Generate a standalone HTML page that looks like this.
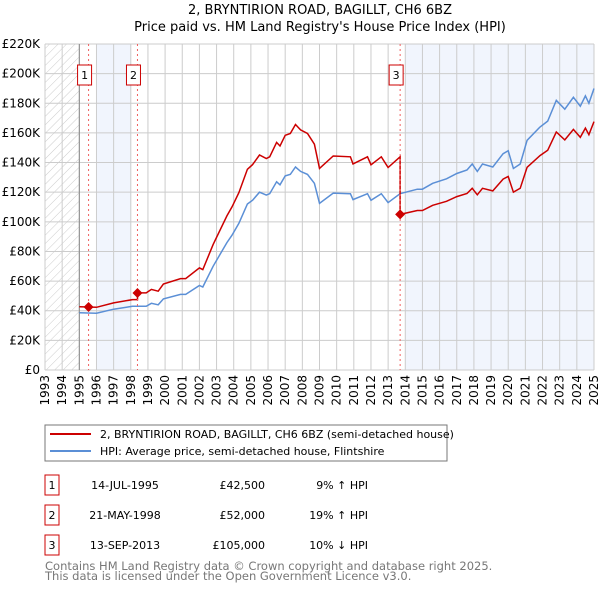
<!DOCTYPE html>
<html><head><meta charset="utf-8"><style>
body{margin:0;background:#fff;}
svg{font-family:"DejaVu Sans","Liberation Sans",sans-serif;}
</style></head><body>
<svg id="chart" width="600" height="590" viewBox="0 0 600 590" xmlns="http://www.w3.org/2000/svg">
<text x="320" y="14" text-anchor="middle" font-size="13">2, BRYNTIRION ROAD, BAGILLT, CH6 6BZ</text>
<text x="320" y="31" text-anchor="middle" font-size="13">Price paid vs. HM Land Registry's House Price Index (HPI)</text>
<defs><pattern id="hatch" width="6" height="6" patternUnits="userSpaceOnUse" patternTransform="rotate(45)"><line x1="0" y1="0" x2="0" y2="6" stroke="#ccc" stroke-width="1"/></pattern></defs>
<g id="bg"></g><g id="grid"></g><g id="series"></g><g id="marks"></g>
<rect x="45" y="425" width="402" height="36" fill="#fff" stroke="#777"/>
<line x1="50" y1="434" x2="91" y2="434" stroke="#cc0000" stroke-width="2"/>
<text x="100" y="438" font-size="11">2, BRYNTIRION ROAD, BAGILLT, CH6 6BZ (semi-detached house)</text>
<line x1="50" y1="451" x2="91" y2="451" stroke="#5b8fd6" stroke-width="2"/>
<text x="100" y="455" font-size="11">HPI: Average price, semi-detached house, Flintshire</text>
<g id="table" font-size="11"></g>
<text x="45" y="570" font-size="11.5" fill="#777">Contains HM Land Registry data © Crown copyright and database right 2025.</text>
<text x="45" y="580" font-size="11.5" fill="#777">This data is licensed under the Open Government Licence v3.0.</text>
</svg>
<script>
const hpiYears=[1995.0,1996.0,1997.0,1998.1,1998.9,1999.2,1999.6,1999.9,2000.9,2001.2,2002.0,2002.2,2002.8,2003.6,2003.9,2004.3,2004.8,2005.1,2005.5,2005.9,2006.1,2006.5,2006.7,2007.0,2007.3,2007.6,2007.9,2008.3,2008.7,2009.0,2009.8,2010.8,2010.95,2011.8,2012.0,2012.6,2013.0,2013.7,2014.7,2015.0,2015.6,2016.4,2017.0,2017.6,2017.9,2018.2,2018.5,2019.1,2019.7,2020.0,2020.3,2020.7,2021.1,2021.85,2022.3,2022.8,2023.3,2023.8,2024.2,2024.5,2024.7,2025.0];
const hpiValues=[38.7,38.3,41,43,43,45,44,48,51,51,57,56,70,86,91,99,112,114.6,120,118,119,127,125,131,132,137,134,132,126,112.5,119.4,119,115,119,114.5,119,113,119,122,122,126,129,132.6,135,139,134,139,137,146,148,136,139,155,164,168,182,176,184,178,185,180,190];
const saleDates=[1995.54,1998.39,2013.7];
const salePrices=[42.5,52,105];
const saleLabels=["1","2","3"];
const saleDateText=["14-JUL-1995","21-MAY-1998","13-SEP-2013"];
const salePriceText=["£42,500","£52,000","£105,000"];
const saleHpiText=["9% ↑ HPI","19% ↑ HPI","10% ↓ HPI"];
const yTicks=[0,20,40,60,80,100,120,140,160,180,200,220];
const xTicks=[1993,1994,1995,1996,1997,1998,1999,2000,2001,2002,2003,2004,2005,2006,2007,2008,2009,2010,2011,2012,2013,2014,2015,2016,2017,2018,2019,2020,2021,2022,2023,2024,2025];

const X0=45,X1=594,Y0=370,Y1=44;
const xs=y=>X0+(y-1993)/(2025-1993)*(X1-X0);
const ys=v=>Y0-v/220*(Y0-Y1);
const NS="http://www.w3.org/2000/svg";
function mk(parent,tag,attrs){const e=document.createElementNS(NS,tag);for(const k in attrs)e.setAttribute(k,attrs[k]);document.getElementById(parent).appendChild(e);return e;}
const n=Math.min(hpiYears.length,hpiValues.length);
function hpiAt(t){for(let i=0;i<n-1;i++){if(t>=hpiYears[i]&&t<=hpiYears[i+1]){const f=(t-hpiYears[i])/(hpiYears[i+1]-hpiYears[i]);return hpiValues[i]+f*(hpiValues[i+1]-hpiValues[i]);}}return hpiValues[n-1];}

let e;
e=mk('bg','rect',{x:X0,y:Y1,width:X1-X0,height:Y0-Y1,fill:'#fff'});


e=mk('bg','rect',{x:X0,y:Y1,width:xs(1995)-X0,height:Y0-Y1,fill:'url(#hatch)'});


e=mk('bg','rect',{x:xs(1996),y:Y1,width:xs(1998)-xs(1996),height:Y0-Y1,fill:'#eef3fc',opacity:0.8});


e=mk('bg','rect',{x:xs(2014),y:Y1,width:X1-xs(2014),height:Y0-Y1,fill:'#eef3fc',opacity:0.8});



yTicks.forEach(v=>{
 e=mk('grid','line',{x1:X0,x2:X1,y1:ys(v),y2:ys(v),stroke:'#ccc','stroke-width':1});
 
 
 e=mk('grid','text',{x:X0-5,y:ys(v)+4,'text-anchor':'end','font-size':12});
 e.textContent=v===0?'£0':'£'+v+'K';
 
 
});
xTicks.forEach(y=>{
 e=mk('grid','line',{x1:xs(y),x2:xs(y),y1:Y1,y2:Y0,stroke:'#ccc','stroke-width':1});
 
 
 e=mk('grid','text',{x:0,y:0,'text-anchor':'end','font-size':12,transform:`translate(${xs(y)+4},${Y0+5}) rotate(-90)`});
 e.textContent=y;
 
 
});
e=mk('grid','line',{x1:xs(1995),x2:xs(1995),y1:Y1,y2:Y0,stroke:'#888'});



let hp='';for(let i=0;i<n;i++)hp+=(i?'L':'M')+xs(hpiYears[i]).toFixed(1)+','+ys(hpiValues[i]).toFixed(1);
e=mk('series','path',{d:hp,fill:'none',stroke:'#5b8fd6','stroke-width':1.5});



let rp='';
const pts=[];
for(let s=0;s<saleDates.length;s++){
 const ratio=salePrices[s]/hpiAt(saleDates[s]);
 const end=s<saleDates.length-1?saleDates[s+1]:hpiYears[n-1];
 const start=s===0?hpiYears[0]:saleDates[s];
 pts.push([start,hpiAt(start)*ratio]);
 for(let i=0;i<n;i++){if(hpiYears[i]>start&&hpiYears[i]<end)pts.push([hpiYears[i],hpiValues[i]*ratio]);}
 pts.push([end,hpiAt(end)*ratio]);
}
pts.forEach((p,i)=>{rp+=(i?'L':'M')+xs(p[0]).toFixed(1)+','+ys(p[1]).toFixed(1);});
e=mk('series','path',{d:rp,fill:'none',stroke:'#cc0000','stroke-width':1.5});



saleDates.forEach((d,i)=>{
 const x=xs(d);
 e=mk('marks','line',{x1:x,x2:x,y1:Y1,y2:Y0,stroke:'#f06060','stroke-dasharray':'2,3'});
 
 
 e=mk('marks','rect',{x:x-11,y:65,width:14,height:20,fill:'#fff',stroke:'#cc0000'});
 
 
 e=mk('marks','text',{x:x-4,y:79,'text-anchor':'middle','font-size':11});
 e.textContent=saleLabels[i];
 
 
 const y=ys(salePrices[i]);
 e=mk('marks','path',{d:`M${x},${y-5}L${x+5},${y}L${x},${y+5}L${x-5},${y}Z`,fill:'#cc0000'});
 
 
 const ry=485+i*30;
 e=mk('table','rect',{x:45,y:ry-10,width:14,height:20,fill:'#fff',stroke:'#cc0000'});
 
 
 e=mk('table','text',{x:52,y:ry+4,'text-anchor':'middle'});e.textContent=saleLabels[i];
 
 
 e=mk('table','text',{x:125,y:ry+4,'text-anchor':'middle'});e.textContent=saleDateText[i];
 
 
 e=mk('table','text',{x:265,y:ry+4,'text-anchor':'end'});e.textContent=salePriceText[i];
 
 
 e=mk('table','text',{x:368,y:ry+4,'text-anchor':'end'});e.textContent=saleHpiText[i];
 
 
});
</script>
</body></html>
